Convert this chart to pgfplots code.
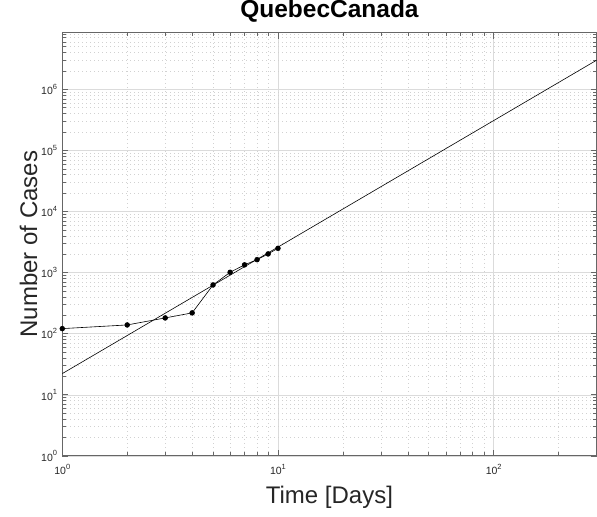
\documentclass[border=0pt]{standalone}
\usepackage{fontspec}
\setmainfont{Liberation Sans}
\usepackage{pgfplots}
\pgfplotsset{compat=1.18}
\definecolor{axgray}{gray}{0.40}
\definecolor{txtgray}{gray}{0.15}
\definecolor{gridgray}{gray}{0.86}
\definecolor{mgridgray}{gray}{0.82}
\newcommand\tp[1]{10\raisebox{5.5pt}{\fontsize{7.5}{7.5}\selectfont #1}}
\begin{document}
\begin{tikzpicture}
\begin{axis}[
  name=ax,
  scale only axis, width=534.5pt, height=423.3pt,
  xmode=log, ymode=log,
  xmin=1, xmax=300, ymin=1, ymax=8.46e6,
  xtick={1,10,100}, xticklabels={\tp{0},\tp{1},\tp{2}},
  ytick={1,10,100,1000,10000,100000,1000000},
  yticklabels={\tp{0},\tp{1},\tp{2},\tp{3},\tp{4},\tp{5},\tp{6}},
  minor xtick={2,3,4,5,6,7,8,9,20,30,40,50,60,70,80,90,200,300},
  minor ytick={2,3,4,5,6,7,8,9,20,30,40,50,60,70,80,90,200,300,400,500,600,700,800,900,2000,3000,4000,5000,6000,7000,8000,9000,20000,30000,40000,50000,60000,70000,80000,90000,200000,300000,400000,500000,600000,700000,800000,900000,2000000,3000000,4000000,5000000,6000000,7000000,8000000},
  grid=both,
  major grid style={solid, gridgray, line width=0.5pt},
  minor grid style={mgridgray, line width=0.6pt, dash pattern=on 0.7pt off 3.3pt},
  tick align=inside, xtick pos=both, ytick pos=both,
  major tick length=6pt, minor tick length=3.5pt,
  every tick/.style={axgray, line width=0.6pt},
  axis line style={axgray, line width=0.8pt},
  tick label style={font=\fontsize{10.5}{10.5}\selectfont, text=txtgray},
  xticklabel style={anchor=base, yshift=-19pt},
  yticklabel style={anchor=east, inner sep=0pt, xshift=-5pt},
  xlabel={Time [Days]},
  ylabel={Number of Cases},
  label style={font=\fontsize{24}{24}\selectfont, text=txtgray},
  xlabel style={at={(axis description cs:0.5,-0.1117)}, anchor=base},
  ylabel style={at={(axis description cs:-0.0473,0.5)}, anchor=base, rotate=0},
  title={QuebecCanada},
  title style={at={(axis description cs:0.5,1.0206)}, anchor=base, font=\bfseries\fontsize{24.5}{24.5}\selectfont, text=black},
]
\addplot[black, line width=0.6pt] coordinates {(1,22.2) (300,3.0e6)};
\addplot[black, line width=0.6pt, mark=*, mark size=2.4pt, mark options={fill=black}] coordinates {
  (1,121) (2,139) (3,181) (4,219) (5,628) (6,1013) (7,1339) (8,1629) (9,2021) (10,2498)
};
\end{axis}
\pgfresetboundingbox
\path[use as bounding box] ([xshift=-62.3pt,yshift=-61pt]ax.south west) rectangle ([xshift=0.4pt,yshift=32.7pt]ax.north east);
\end{tikzpicture}
\end{document}
